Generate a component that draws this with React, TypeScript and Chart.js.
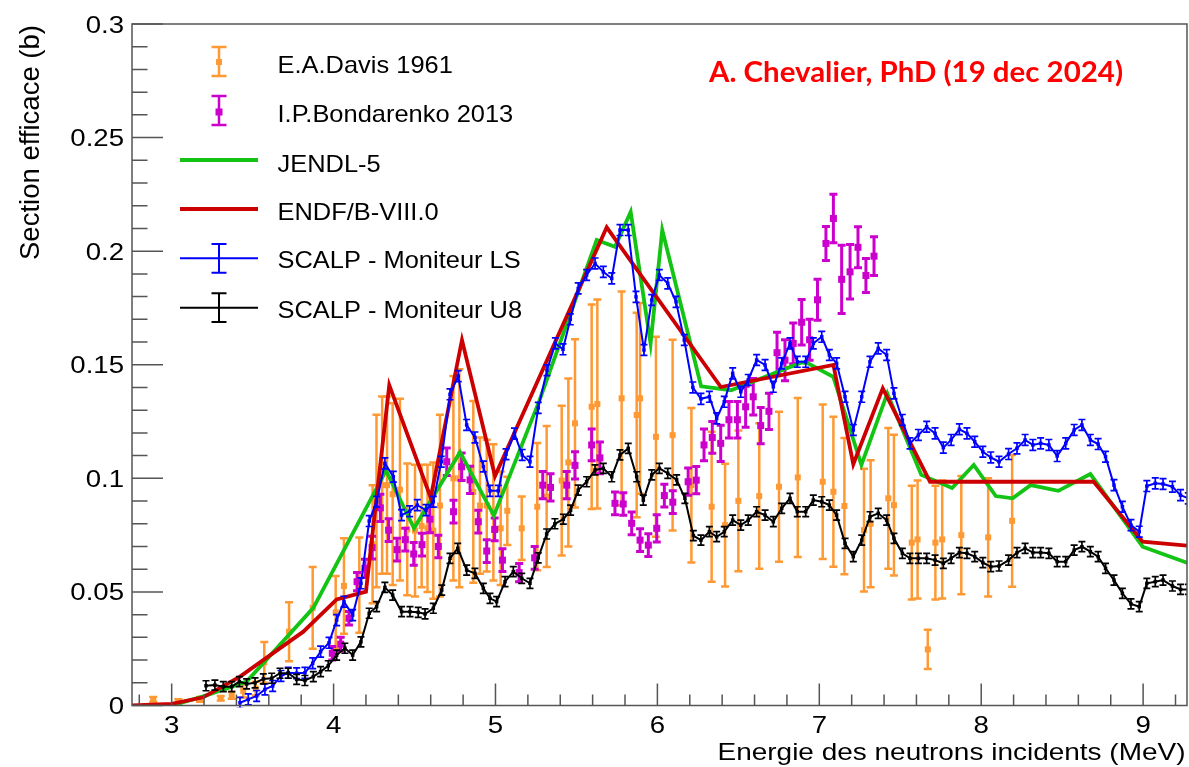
import React, { useEffect, useRef } from 'react';
import { Chart, registerables } from 'chart.js';

Chart.register(...registerables);

// ---------------- axis ranges & tick labels ----------------
const X_MIN = 2.755;
const X_MAX = 9.271;
const Y_MIN = 0;
const Y_MAX = 0.3;
const X_TICK_VALUES = [3, 4, 5, 6, 7, 8, 9];
const X_TICK_LABELS = ['3', '4', '5', '6', '7', '8', '9'];
const Y_TICK_VALUES = [0, 0.05, 0.1, 0.15, 0.2, 0.25, 0.3];
const Y_TICK_LABELS = ['0', '0.05', '0.1', '0.15', '0.2', '0.25', '0.3'];
const X_TITLE = 'Energie des neutrons incidents (MeV)';
const Y_TITLE = 'Section efficace (b)';
const ANNOTATION = 'A. Chevalier, PhD (19 dec 2024)';

const SERIES_NAMES = [
  'E.A.Davis 1961',
  'I.P.Bondarenko 2013',
  'JENDL-5',
  'ENDF/B-VIII.0',
  'SCALP - Moniteur LS',
  'SCALP - Moniteur U8',
];

// ---------------- E.A.Davis 1961 ----------------
const DAVIS_E = [2.886, 3.041, 3.175, 3.303, 3.371, 3.442, 3.519, 3.572, 3.725, 3.871, 4.013, 4.064, 4.159, 4.241, 4.265, 4.30, 4.33, 4.365, 4.41, 4.455, 4.503, 4.544, 4.58, 4.616, 4.657, 4.74, 4.777, 4.863, 4.904, 4.946, 4.987, 5.032, 5.073, 5.162, 5.258, 5.316, 5.409, 5.45, 5.491, 5.594, 5.629, 5.779, 5.872, 5.893, 5.991, 6.094, 6.21, 6.335, 6.418, 6.5, 6.629, 6.751, 6.867, 7.021, 7.087, 7.155, 7.276, 7.317, 7.426, 7.461, 7.571, 7.607, 7.67, 7.717, 7.759, 7.877, 8.043, 8.191];
const DAVIS_XS = [0.0027, 0.0017, 0.0027, 0.0032, 0.0045, 0.0065, 0.0074, 0.019, 0.0325, 0.043, 0.041, 0.0526, 0.053, 0.071, 0.090, 0.097, 0.097, 0.093, 0.095, 0.0775, 0.077, 0.079, 0.078, 0.077, 0.088, 0.100, 0.100, 0.094, 0.088, 0.088, 0.085, 0.078, 0.0857, 0.078, 0.0875, 0.092, 0.099, 0.107, 0.1242, 0.1315, 0.1327, 0.1352, 0.1279, 0.1352, 0.1183, 0.119, 0.097, 0.0875, 0.0794, 0.0901, 0.0922, 0.0963, 0.1004, 0.0985, 0.0941, 0.0878, 0.0772, 0.080, 0.0912, 0.0882, 0.0717, 0.0731, 0.0247, 0.0717, 0.0731, 0.075, 0.074, 0.0813];
const DAVIS_ERR = [0.001, 0.001, 0.001, 0.001, 0.0015, 0.003, 0.003, 0.009, 0.013, 0.018, 0.016, 0.021, 0.021, 0.026, 0.038, 0.039, 0.039, 0.040, 0.040, 0.029, 0.029, 0.027, 0.028, 0.030, 0.040, 0.045, 0.048, 0.040, 0.030, 0.029, 0.030, 0.025, 0.015, 0.014, 0.028, 0.031, 0.033, 0.037, 0.037, 0.045, 0.046, 0.047, 0.045, 0.042, 0.044, 0.042, 0.034, 0.033, 0.027, 0.031, 0.032, 0.033, 0.035, 0.034, 0.033, 0.030, 0.027, 0.028, 0.031, 0.031, 0.025, 0.026, 0.0086, 0.025, 0.026, 0.026, 0.026, 0.029];

// ---------------- I.P.Bondarenko 2013 ----------------
const BOND_E = [3.992, 4.044, 4.095, 4.145, 4.194, 4.238, 4.289, 4.34, 4.392, 4.443, 4.495, 4.546, 4.595, 4.647, 4.699, 4.741, 4.791, 4.843, 4.894, 4.946, 4.995, 5.043, 5.146, 5.242, 5.292, 5.34, 5.44, 5.491, 5.594, 5.645, 5.738, 5.789, 5.841, 5.893, 5.944, 5.996, 6.043, 6.095, 6.19, 6.24, 6.288, 6.339, 6.391, 6.442, 6.494, 6.545, 6.592, 6.638, 6.689, 6.739, 6.788, 6.839, 6.891, 6.94, 6.989, 7.041, 7.087, 7.138, 7.19, 7.239, 7.288, 7.338];
const BOND_XS = [0.023, 0.027, 0.0384, 0.0545, 0.0604, 0.0695, 0.087, 0.0772, 0.0686, 0.073, 0.0667, 0.0708, 0.082, 0.070, 0.1073, 0.0853, 0.1051, 0.0993, 0.0809, 0.068, 0.0775, 0.064, 0.0585, 0.065, 0.097, 0.096, 0.097, 0.1057, 0.1147, 0.109, 0.089, 0.0887, 0.0802, 0.0728, 0.0706, 0.078, 0.0924, 0.0895, 0.0985, 0.0992, 0.1147, 0.118, 0.1154, 0.1258, 0.1258, 0.1315, 0.1359, 0.1232, 0.1295, 0.1553, 0.152, 0.1594, 0.1687, 0.161, 0.1786, 0.2034, 0.2144, 0.1876, 0.1909, 0.2017, 0.1893, 0.1978];
const BOND_ERR = [0.003, 0.003, 0.003, 0.004, 0.004, 0.005, 0.006, 0.005, 0.005, 0.005, 0.005, 0.005, 0.006, 0.005, 0.006, 0.005, 0.006, 0.006, 0.005, 0.005, 0.005, 0.005, 0.004, 0.005, 0.006, 0.006, 0.006, 0.006, 0.007, 0.007, 0.005, 0.005, 0.005, 0.005, 0.005, 0.006, 0.005, 0.005, 0.006, 0.006, 0.007, 0.007, 0.008, 0.008, 0.008, 0.009, 0.008, 0.008, 0.008, 0.009, 0.009, 0.009, 0.01, 0.009, 0.009, 0.0075, 0.0107, 0.015, 0.012, 0.009, 0.0075, 0.0085];

// ---------------- JENDL-5 ----------------
const JENDL_E = [3.0, 3.195, 3.463, 3.875, 4.324, 4.497, 4.781, 4.99, 5.27, 5.625, 5.738, 5.835, 5.958, 6.03, 6.27, 6.455, 6.89, 6.93, 7.086, 7.26, 7.42, 7.63, 7.82, 7.954, 8.09, 8.194, 8.305, 8.476, 8.674, 8.997, 9.279];
const JENDL_XS = [0.0, 0.004, 0.0105, 0.043, 0.1035, 0.078, 0.1115, 0.0836, 0.134, 0.2049, 0.2019, 0.2173, 0.1594, 0.2093, 0.1405, 0.1388, 0.151, 0.1506, 0.1447, 0.1059, 0.1374, 0.1015, 0.0957, 0.1059, 0.0922, 0.0912, 0.097, 0.0945, 0.1019, 0.0699, 0.0626];

// ---------------- ENDF/B-VIII.0 ----------------
const ENDF_E = [2.755, 3.0, 3.195, 3.422, 3.813, 4.019, 4.2, 4.344, 4.6, 4.793, 4.997, 5.687, 6.392, 7.087, 7.21, 7.392, 7.684, 8.695, 8.997, 9.279];
const ENDF_XS = [0.0, 0.0007, 0.0036, 0.0127, 0.0325, 0.0467, 0.0501, 0.141, 0.0915, 0.1609, 0.101, 0.2105, 0.1402, 0.1499, 0.1062, 0.1396, 0.0985, 0.0985, 0.0721, 0.0703];

// ---------------- SCALP - Moniteur LS ----------------
const LS_E = [3.422, 3.473, 3.525, 3.576, 3.624, 3.675, 3.72, 3.772, 3.823, 3.871, 3.92, 3.972, 4.019, 4.064, 4.118, 4.169, 4.22, 4.266, 4.317, 4.369, 4.42, 4.47, 4.517, 4.571, 4.616, 4.665, 4.719, 4.77, 4.822, 4.873, 4.925, 4.966, 5.017, 5.065, 5.117, 5.165, 5.213, 5.264, 5.318, 5.37, 5.417, 5.462, 5.511, 5.563, 5.615, 5.666, 5.718, 5.769, 5.82, 5.868, 5.917, 5.965, 6.012, 6.064, 6.115, 6.166, 6.219, 6.269, 6.321, 6.366, 6.413, 6.465, 6.515, 6.561, 6.613, 6.665, 6.716, 6.768, 6.819, 6.864, 6.916, 6.963, 7.015, 7.062, 7.107, 7.159, 7.21, 7.262, 7.313, 7.364, 7.416, 7.461, 7.513, 7.56, 7.612, 7.663, 7.715, 7.766, 7.814, 7.865, 7.912, 7.96, 8.01, 8.059, 8.11, 8.169, 8.221, 8.271, 8.319, 8.367, 8.418, 8.469, 8.522, 8.574, 8.622, 8.674, 8.722, 8.768, 8.82, 8.872, 8.925, 8.976, 9.023, 9.075, 9.123, 9.181, 9.231, 9.279];
const LS_XS = [0.0012, 0.0027, 0.0042, 0.0071, 0.0086, 0.013, 0.0144, 0.0142, 0.0144, 0.0186, 0.0237, 0.0276, 0.0376, 0.0457, 0.0398, 0.0538, 0.0812, 0.0897, 0.1066, 0.1007, 0.0838, 0.0855, 0.0882, 0.086, 0.0897, 0.1073, 0.137, 0.145, 0.1235, 0.118, 0.1052, 0.0945, 0.0945, 0.1106, 0.1197, 0.1103, 0.1073, 0.131, 0.1476, 0.1594, 0.1568, 0.170, 0.1836, 0.1895, 0.1946, 0.1909, 0.188, 0.2093, 0.2093, 0.1799, 0.1565, 0.1785, 0.1895, 0.1858, 0.1777, 0.1609, 0.14, 0.135, 0.1359, 0.1264, 0.1337, 0.1462, 0.1381, 0.1433, 0.1521, 0.1499, 0.1403, 0.1506, 0.1594, 0.1513, 0.1513, 0.1594, 0.1623, 0.1543, 0.1506, 0.1359, 0.1213, 0.1359, 0.1513, 0.1572, 0.1543, 0.1374, 0.1257, 0.1154, 0.1191, 0.1227, 0.1198, 0.1135, 0.1169, 0.1216, 0.1198, 0.1161, 0.1117, 0.1092, 0.1073, 0.1107, 0.1132, 0.1169, 0.1147, 0.1154, 0.1147, 0.1098, 0.1154, 0.1213, 0.1235, 0.1169, 0.1151, 0.1095, 0.097, 0.0875, 0.0794, 0.0765, 0.0966, 0.0978, 0.0975, 0.0963, 0.0926, 0.0912];
const LS_ERR = 0.0024;

// ---------------- SCALP - Moniteur U8 ----------------
const U8_E = [3.212, 3.267, 3.319, 3.371, 3.418, 3.463, 3.515, 3.566, 3.618, 3.669, 3.72, 3.772, 3.823, 3.875, 3.92, 3.967, 4.019, 4.07, 4.118, 4.169, 4.22, 4.266, 4.317, 4.365, 4.42, 4.472, 4.523, 4.565, 4.616, 4.668, 4.719, 4.767, 4.822, 4.873, 4.925, 4.966, 5.007, 5.059, 5.11, 5.162, 5.213, 5.264, 5.316, 5.367, 5.419, 5.464, 5.511, 5.563, 5.615, 5.666, 5.718, 5.769, 5.82, 5.872, 5.913, 5.965, 6.012, 6.064, 6.119, 6.17, 6.222, 6.269, 6.321, 6.366, 6.413, 6.465, 6.515, 6.561, 6.613, 6.665, 6.716, 6.768, 6.819, 6.864, 6.916, 6.963, 7.015, 7.062, 7.107, 7.159, 7.21, 7.262, 7.313, 7.364, 7.416, 7.461, 7.513, 7.56, 7.612, 7.663, 7.715, 7.766, 7.814, 7.865, 7.912, 7.96, 8.01, 8.059, 8.11, 8.169, 8.221, 8.271, 8.319, 8.367, 8.418, 8.469, 8.522, 8.574, 8.622, 8.674, 8.722, 8.768, 8.82, 8.872, 8.925, 8.976, 9.023, 9.075, 9.123, 9.181, 9.231, 9.279];
const U8_XS = [0.0087, 0.009, 0.0083, 0.0083, 0.0105, 0.0095, 0.010, 0.0117, 0.012, 0.0142, 0.0142, 0.0115, 0.011, 0.0127, 0.0149, 0.0175, 0.0222, 0.0252, 0.0222, 0.028, 0.0406, 0.0435, 0.052, 0.0486, 0.0413, 0.0413, 0.041, 0.0403, 0.0428, 0.0508, 0.0648, 0.0692, 0.0596, 0.0582, 0.0516, 0.0472, 0.0457, 0.0545, 0.0589, 0.056, 0.0538, 0.065, 0.0755, 0.080, 0.082, 0.086, 0.0948, 0.0985, 0.1037, 0.1044, 0.1007, 0.1103, 0.1132, 0.1007, 0.0904, 0.1015, 0.1044, 0.1022, 0.0993, 0.0912, 0.0748, 0.0728, 0.0765, 0.0743, 0.0765, 0.0816, 0.0794, 0.0816, 0.0853, 0.0838, 0.0809, 0.0868, 0.0912, 0.0853, 0.0853, 0.0904, 0.0897, 0.0882, 0.0838, 0.0714, 0.0655, 0.0728, 0.0831, 0.0846, 0.0816, 0.0736, 0.067, 0.0648, 0.0648, 0.0648, 0.064, 0.0626, 0.0648, 0.0673, 0.067, 0.0655, 0.0629, 0.0611, 0.0614, 0.064, 0.0673, 0.0692, 0.0673, 0.0673, 0.067, 0.0633, 0.0633, 0.0684, 0.0699, 0.0677, 0.0655, 0.0604, 0.0552, 0.0494, 0.0447, 0.0435, 0.0538, 0.0545, 0.0552, 0.0526, 0.0511, 0.0511];
const U8_ERR = 0.0022;

// ---------------- colours ----------------
const C_DAVIS = '#ff9933';
const C_BOND = '#cc00cc';
const C_JENDL = '#14c414';
const C_ENDF = '#cc0000';
const C_LS = '#0000ff';
const C_U8 = '#000000';
const C_AXIS = '#555555';
const FONT = '"Liberation Sans", Arial, Helvetica, sans-serif';

function pts(xs: number[], ys: number[]) {
  const n = Math.min(xs.length, ys.length);
  const out: { x: number; y: number }[] = [];
  for (let i = 0; i < n; i++) out.push({ x: xs[i], y: ys[i] });
  return out;
}

function drawText(
  ctx: CanvasRenderingContext2D,
  text: string,
  x: number,
  y: number,
  o: { font: string; color: string; align: CanvasTextAlign; sx?: number; width?: number }
) {
  ctx.save();
  ctx.font = o.font;
  ctx.fillStyle = o.color;
  ctx.textBaseline = 'alphabetic';
  ctx.textAlign = o.align;
  const w = ctx.measureText(text).width;
  const sx = o.width ? o.width / w : o.sx ?? 1;
  ctx.translate(x, y);
  ctx.scale(sx, 1);
  ctx.fillText(text, 0, 0);
  ctx.restore();
}

function errSymbol(ctx: CanvasRenderingContext2D, x: number, yTop: number, yBot: number, cap: number, color: string, lw: number) {
  ctx.strokeStyle = color;
  ctx.lineWidth = lw;
  ctx.beginPath();
  ctx.moveTo(x, yTop);
  ctx.lineTo(x, yBot);
  ctx.moveTo(x - cap, yTop);
  ctx.lineTo(x + cap, yTop);
  ctx.moveTo(x - cap, yBot);
  ctx.lineTo(x + cap, yBot);
  ctx.stroke();
}

const rootPlugin = {
  id: 'rootStyle',
  afterDatasetDraw(chart: any, args: any) {
    const ds = chart.data.datasets[args.index];
    if (!ds.errs) return;
    const ctx: CanvasRenderingContext2D = chart.ctx;
    const xs = chart.scales.x;
    const ys = chart.scales.y;
    const a = chart.chartArea;
    ctx.save();
    ctx.beginPath();
    ctx.rect(a.left, a.top - 2, a.right - a.left, a.bottom - a.top + 4);
    ctx.clip();
    ds.data.forEach((p: any, i: number) => {
      const px = xs.getPixelForValue(p.x);
      const py = ys.getPixelForValue(p.y);
      const e = ds.errs[i];
      const pt = ys.getPixelForValue(p.y + e);
      const pb = ys.getPixelForValue(Math.max(p.y - e, -0.01));
      errSymbol(ctx, px, pt, pb, ds.capHalf, ds.errColor, ds.errWidth);
      ctx.fillStyle = ds.errColor;
      const m = ds.markSize;
      ctx.fillRect(px - m / 2, py - m / 2, m, m);
    });
    ctx.restore();
  },
  afterDraw(chart: any) {
    const ctx: CanvasRenderingContext2D = chart.ctx;
    const xs = chart.scales.x;
    const ys = chart.scales.y;
    const a = chart.chartArea;

    // frame
    ctx.save();
    ctx.strokeStyle = C_AXIS;
    ctx.lineWidth = 1.5;
    ctx.strokeRect(a.left, a.top, a.right - a.left, a.bottom - a.top);

    // y ticks (inside)
    ctx.beginPath();
    for (let k = 0; k <= 30; k++) {
      const py = ys.getPixelForValue(k / 100);
      const len = k % 5 === 0 ? 31 : 15.5;
      ctx.moveTo(a.left, py);
      ctx.lineTo(a.left + len, py);
    }
    // x ticks (inside)
    for (let k = 14; k <= 46; k++) {
      const px = xs.getPixelForValue(k / 5);
      const len = k % 5 === 0 ? 22 : 11;
      ctx.moveTo(px, a.bottom);
      ctx.lineTo(px, a.bottom - len);
    }
    ctx.stroke();
    ctx.restore();

    // tick labels
    const tickFont = `24px ${FONT}`;
    Y_TICK_VALUES.forEach((v, i) => {
      const py = ys.getPixelForValue(v);
      drawText(ctx, Y_TICK_LABELS[i], a.left - 8, py + 8.5, { font: tickFont, color: '#000', align: 'right', sx: 1.15 });
    });
    X_TICK_VALUES.forEach((v, i) => {
      const px = xs.getPixelForValue(v);
      drawText(ctx, X_TICK_LABELS[i], px, 733, { font: tickFont, color: '#000', align: 'center', sx: 1.15 });
    });

    // axis titles
    drawText(ctx, X_TITLE, 1185.5, 760, { font: tickFont, color: '#000', align: 'right', width: 468 });
    ctx.save();
    ctx.font = tickFont;
    const wy = ctx.measureText(Y_TITLE).width;
    ctx.translate(39, 25);
    ctx.rotate(-Math.PI / 2);
    ctx.scale(235 / wy, 1.12);
    ctx.fillStyle = '#000';
    ctx.textAlign = 'right';
    ctx.textBaseline = 'alphabetic';
    ctx.fillText(Y_TITLE, 0, 0);
    ctx.restore();

    // annotation
    drawText(ctx, ANNOTATION, 709, 82, { font: `bold 28px Lato, "Open Sans", sans-serif`, color: '#ff0000', align: 'left', width: 414 });

    // legend
    const lx0 = 180, lx1 = 258, lxc = 219, tx = 277.5;
    const legFont = `24px ${FONT}`;
    ctx.save();
    errSymbol(ctx, lxc, 47, 76, 7.5, C_DAVIS, 2.5);
    ctx.fillStyle = C_DAVIS;
    ctx.fillRect(lxc - 3, 62 - 3, 6, 6);
    errSymbol(ctx, lxc, 96, 125, 7.5, C_BOND, 2.5);
    ctx.fillStyle = C_BOND;
    ctx.fillRect(lxc - 3.5, 112 - 3.5, 7, 7);
    ctx.strokeStyle = C_JENDL;
    ctx.lineWidth = 4;
    ctx.beginPath(); ctx.moveTo(lx0, 160); ctx.lineTo(lx1, 160); ctx.stroke();
    ctx.strokeStyle = C_ENDF;
    ctx.beginPath(); ctx.moveTo(lx0, 209); ctx.lineTo(lx1, 209); ctx.stroke();
    ctx.strokeStyle = C_LS;
    ctx.lineWidth = 2;
    ctx.beginPath(); ctx.moveTo(lx0, 258.3); ctx.lineTo(lx1, 258.3); ctx.stroke();
    errSymbol(ctx, lxc, 244, 272.7, 7.5, C_LS, 2);
    ctx.strokeStyle = C_U8;
    ctx.beginPath(); ctx.moveTo(lx0, 307.7); ctx.lineTo(lx1, 307.7); ctx.stroke();
    errSymbol(ctx, lxc, 293.3, 322, 7.5, C_U8, 2);
    ctx.restore();
    const baselines = [72.7, 121.7, 171.7, 220, 268.3, 318];
    SERIES_NAMES.forEach((name, i) => {
      drawText(ctx, name, tx, baselines[i], { font: legFont, color: '#000', align: 'left', sx: 1.06 });
    });
  },
};

export default function App() {
  const ref = useRef<HTMLCanvasElement | null>(null);
  useEffect(() => {
    document.body.style.margin = '0';
    const canvas = ref.current;
    if (!canvas) return;
    const chart = new Chart(canvas, {
      type: 'scatter',
      data: {
        datasets: [
          {
            label: SERIES_NAMES[5],
            data: pts(U8_E, U8_XS),
            showLine: true,
            borderColor: C_U8,
            borderWidth: 2,
            pointRadius: 0,
            order: 1,
            errs: U8_E.map(() => U8_ERR),
            errColor: C_U8,
            errWidth: 1.7,
            capHalf: 3.5,
            markSize: 3.5,
          } as any,
          {
            label: SERIES_NAMES[4],
            data: pts(LS_E, LS_XS),
            showLine: true,
            borderColor: C_LS,
            borderWidth: 2,
            pointRadius: 0,
            order: 2,
            errs: LS_E.map(() => LS_ERR),
            errColor: C_LS,
            errWidth: 1.7,
            capHalf: 3.5,
            markSize: 3.5,
          } as any,
          {
            label: SERIES_NAMES[3],
            data: pts(ENDF_E, ENDF_XS),
            showLine: true,
            borderColor: C_ENDF,
            borderWidth: 3.8,
            pointRadius: 0,
            order: 3,
          },
          {
            label: SERIES_NAMES[2],
            data: pts(JENDL_E, JENDL_XS),
            showLine: true,
            borderColor: C_JENDL,
            borderWidth: 3.8,
            pointRadius: 0,
            order: 4,
          },
          {
            label: SERIES_NAMES[1],
            data: pts(BOND_E, BOND_XS),
            showLine: false,
            pointRadius: 0,
            order: 5,
            errs: BOND_ERR,
            errColor: C_BOND,
            errWidth: 3,
            capHalf: 4,
            markSize: 7,
          } as any,
          {
            label: SERIES_NAMES[0],
            data: pts(DAVIS_E, DAVIS_XS),
            showLine: false,
            pointRadius: 0,
            order: 6,
            errs: DAVIS_ERR,
            errColor: C_DAVIS,
            errWidth: 2.5,
            capHalf: 4,
            markSize: 6,
          } as any,
        ],
      },
      options: {
        animation: false,
        responsive: false,
        devicePixelRatio: 1,
        events: [],
        layout: { padding: { left: 132, top: 24, right: 2, bottom: 61.5 } },
        plugins: { legend: { display: false }, tooltip: { enabled: false }, title: { display: false } },
        scales: {
          x: { type: 'linear', min: X_MIN, max: X_MAX, display: false },
          y: { type: 'linear', min: Y_MIN, max: Y_MAX, display: false },
        },
      },
      plugins: [rootPlugin],
    } as any);
    return () => chart.destroy();
  }, []);
  return (
    <div style={{ width: 1189, height: 767, background: '#fff' }}>
      <canvas ref={ref} width={1189} height={767} style={{ display: 'block' }} />
    </div>
  );
}
